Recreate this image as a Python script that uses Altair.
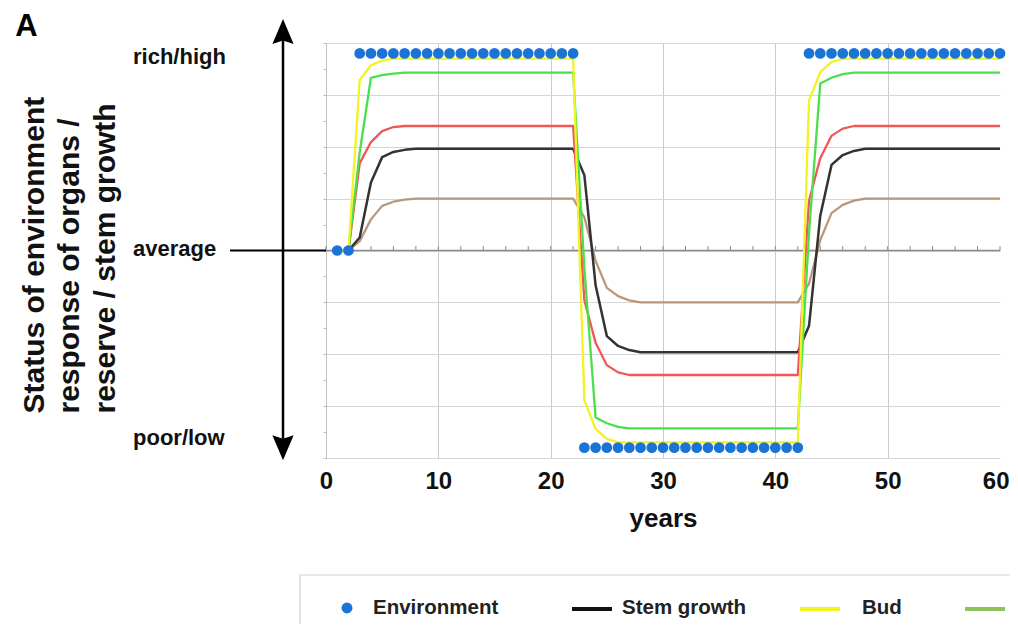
import altair as alt
import pandas as pd

# ---------------- data ----------------
env_years = list(range(1, 61))
env_values = [
    0, 0,
    3.8, 3.8, 3.8, 3.8, 3.8, 3.8, 3.8, 3.8, 3.8, 3.8,
    3.8, 3.8, 3.8, 3.8, 3.8, 3.8, 3.8, 3.8, 3.8, 3.8,
    -3.8, -3.8, -3.8, -3.8, -3.8, -3.8, -3.8, -3.8, -3.8, -3.8,
    -3.8, -3.8, -3.8, -3.8, -3.8, -3.8, -3.8, -3.8, -3.8, -3.8,
    3.8, 3.8, 3.8, 3.8, 3.8, 3.8, 3.8, 3.8, 3.8, 3.8,
    3.8, 3.8, 3.8, 3.8, 3.8, 3.8, 3.8, 3.8,
]

bud_years = [1, 2, 3, 4, 5, 6, 22, 23, 24, 25, 26, 42, 43, 44, 45, 46, 60]
bud_values = [0, 0, 3.29, 3.57, 3.66, 3.7, 3.7, -2.89, -3.44, -3.63, -3.7,
              -3.7, 2.89, 3.44, 3.63, 3.7, 3.7]

green_years = [1, 2, 3, 4, 5, 6, 7, 22, 23, 24, 25, 26, 27, 42, 43, 44, 45, 46, 47, 60]
green_values = [0, 0, 1.89, 3.33, 3.38, 3.41, 3.43, 3.43, -0.34, -3.22, -3.33, -3.40,
                -3.43, -3.43, 0.34, 3.22, 3.33, 3.40, 3.43, 3.43]

red_years = [1, 2, 3, 4, 5, 6, 7, 22, 23, 24, 25, 26, 27, 42, 43, 44, 45, 46, 47, 60]
red_values = [0, 0, 1.68, 2.09, 2.30, 2.38, 2.4, 2.4, -0.96, -1.78, -2.21, -2.35,
              -2.4, -2.4, 0.96, 1.78, 2.21, 2.35, 2.4, 2.4]

stem_years = [1, 2, 3, 4, 5, 6, 7, 8, 22, 23, 24, 25, 26, 27, 28, 42, 43, 44, 45, 46, 47, 48, 60]
stem_values = [0, 0, 0.25, 1.31, 1.80, 1.90, 1.94, 1.96, 1.96, 1.45, -0.67, -1.65, -1.84,
               -1.92, -1.96, -1.96, -1.45, 0.67, 1.65, 1.84, 1.92, 1.96, 1.96]

brown_years = [1, 2, 3, 4, 5, 6, 7, 8, 22, 23, 24, 25, 26, 27, 28, 42, 43, 44, 45, 46, 47, 48, 60]
brown_values = [0, 0, 0.18, 0.6, 0.86, 0.94, 0.98, 1.0, 1.0, 0.64, -0.2, -0.72, -0.88,
                -0.96, -1.0, -1.0, -0.64, 0.2, 0.72, 0.88, 0.96, 1.0, 1.0]

x_tick_values = [0, 10, 20, 30, 40, 50, 60]
y_tick_values = [-4, -3.5, -3, -2.5, -2, -1.5, -1, -0.5, 0, 0.5, 1, 1.5, 2, 2.5, 3, 3.5, 4]
zero_tick_years = [0, 2, 4, 6, 8, 10, 12, 14, 16, 18, 20, 22, 24, 26, 28, 30,
                   32, 34, 36, 38, 40, 42, 44, 46, 48, 50, 52, 54, 56, 58, 60]

side_labels = ["rich/high", "average", "poor/low"]
side_label_pos = [3.73, 0.03, -3.62]

y_title = ["Status of environment", "response of organs /", "reserve / stem growth"]

legend_labels = ["Environment", "Stem growth", "Bud"]

# ---------------- styling ----------------
HELV = "Liberation Sans, Arial, sans-serif"

C_ENV = "#1a73d6"
C_BUD = "#f2f224"
C_GREEN = "#4cdf4c"
C_RED = "#f25656"
C_STEM = "#333333"
C_BROWN = "#b8977a"
C_LEG_GREEN = "#8cc257"

x_scale = alt.Scale(domain=[0, 60], nice=False, zero=False)
y_scale = alt.Scale(domain=[-4, 4], nice=False, zero=False)

x_axis = alt.Axis(
    values=x_tick_values, grid=True, gridColor="#cbcbcb", gridWidth=1,
    gridOpacity={"condition": {"test": "datum.value === 60", "value": 0}, "value": 1},
    domain=False, ticks=False, labelFont=HELV, labelFontSize=24,
    labelFontWeight="bold", labelColor="#111111", labelPadding=11,
    labelFlush=False, labelOverlap=False,
    labelAlign={"condition": {"test": "datum.value === 60", "value": "right"}, "value": "center"},
    labelOffset={"condition": {"test": "datum.value === 60", "value": 9}, "value": 0},
    title="years", titleFont=HELV, titleFontSize=26, titleFontWeight="bold",
    titleColor="#111111", titleBaseline="alphabetic", titleY=68,
)
y_axis = alt.Axis(
    values=y_tick_values, grid=True, gridColor="#d6d6d6", gridWidth=1,
    gridOpacity={"condition": {"test": "datum.value % 1 !== 0", "value": 0}, "value": 1},
    domain=True, domainColor="#c2c2c2", domainWidth=1,
    ticks=True, tickSize=3, tickColor="#bdbdbd", labels=False,
    title=y_title, titleFont=HELV, titleFontSize=30, titleFontWeight="bold",
    titleColor="#111111", titleAngle=270, titleAlign="left",
    titleBaseline="alphabetic", titleX=-283, titleY=370, titleLineHeight=35.5,
)


def X(field="year"):
    return alt.X(f"{field}:Q", scale=x_scale, axis=x_axis)


def Y(field="value"):
    return alt.Y(f"{field}:Q", scale=y_scale, axis=y_axis)


layers = []

# zero axis line and its minor ticks
zero_df = pd.DataFrame({"year": [0], "year2": [60], "value": [0]})
layers.append(
    alt.Chart(zero_df).mark_rule(color="#8a8a8a", strokeWidth=1.5).encode(
        x=X(), x2="year2:Q", y=Y()
    )
)
ztick_df = pd.DataFrame({"year": zero_tick_years, "value": [0] * len(zero_tick_years)})
layers.append(
    alt.Chart(ztick_df).mark_tick(orient="vertical", size=5, thickness=1,
                                  color="#8a8a8a", yOffset=-2, opacity=1).encode(
        x=X(), y=Y()
    )
)

# response curves
series = [
    (brown_years, brown_values, C_BROWN, 2.3),
    (stem_years, stem_values, C_STEM, 2.5),
    (red_years, red_values, C_RED, 2.3),
    (green_years, green_values, C_GREEN, 2.3),
    (bud_years, bud_values, C_BUD, 2.3),
]
for yrs, vals, col, w in series:
    df = pd.DataFrame({"year": yrs, "value": vals})
    layers.append(
        alt.Chart(df).mark_line(color=col, strokeWidth=w, strokeJoin="round").encode(
            x=X(), y=Y(), order="year:Q"
        )
    )

# environment dots
env_df = pd.DataFrame({"year": env_years, "value": env_values})
layers.append(
    alt.Chart(env_df).mark_circle(size=115, color=C_ENV, opacity=1).encode(x=X(), y=Y())
)

# left annotations: labels, arrow, average line, panel letter
lab_df = pd.DataFrame({"label": side_labels, "value": side_label_pos})
layers.append(
    alt.Chart(lab_df).mark_text(align="left", baseline="middle", font=HELV,
                                fontSize=22, fontWeight="bold", color="#111111").encode(
        x=alt.value(-193), y=Y(), text="label:N"
    )
)
shaft_df = pd.DataFrame({"value": [4.1], "value2": [-3.7]})
layers.append(
    alt.Chart(shaft_df).mark_rule(color="black", strokeWidth=2.5).encode(
        x=alt.value(-43), y=Y(), y2="value2:Q"
    )
)
head_up_df = pd.DataFrame({"value": [4.22]})
layers.append(
    alt.Chart(head_up_df).mark_point(
        shape="M0,-1L0.85,1L0,0.72L-0.85,1Z", size=625, filled=True,
        color="black", opacity=1, strokeWidth=0
    ).encode(x=alt.value(-43), y=Y())
)
head_dn_df = pd.DataFrame({"value": [-3.8]})
layers.append(
    alt.Chart(head_dn_df).mark_point(
        shape="M0,1L0.85,-1L0,-0.72L-0.85,-1Z", size=625, filled=True,
        color="black", opacity=1, strokeWidth=0
    ).encode(x=alt.value(-43), y=Y())
)
avg_df = pd.DataFrame({"value": [0]})
layers.append(
    alt.Chart(avg_df).mark_rule(color="black", strokeWidth=2).encode(
        x=alt.value(-96), x2=alt.value(0), y=Y()
    )
)
letter_df = pd.DataFrame({"t": ["A"]})
layers.append(
    alt.Chart(letter_df).mark_text(align="center", baseline="alphabetic", font=HELV,
                                   fontSize=31, fontWeight="bold", color="black").encode(
        x=alt.value(-299.5), y=alt.value(-7), text="t:N"
    )
)

# manual legend (cut by the page edge as in the reference)
box_df = pd.DataFrame({"t": ["box"]})
layers.append(
    alt.Chart(box_df).mark_rect(fill="white", stroke="#d2d2d2", strokeWidth=1.2).encode(
        x=alt.value(-26), x2=alt.value(740), y=alt.value(532), y2=alt.value(650)
    )
)
layers.append(
    alt.Chart(box_df).mark_circle(size=120, color=C_ENV, opacity=1).encode(
        x=alt.value(21), y=alt.value(565)
    )
)
for x0, col in [(246, "#111111"), (474, "#f2f222"), (639, C_LEG_GREEN)]:
    layers.append(
        alt.Chart(box_df).mark_rule(color=col, strokeWidth=4).encode(
            x=alt.value(x0), x2=alt.value(x0 + 40), y=alt.value(566)
        )
    )
for lab, x0 in zip(legend_labels, [47, 296, 536]):
    ldf = pd.DataFrame({"t": [lab]})
    layers.append(
        alt.Chart(ldf).mark_text(align="left", baseline="alphabetic", font=HELV,
                                 fontSize=20.5, fontWeight="bold", color="#222222").encode(
            x=alt.value(x0), y=alt.value(571), text="t:N"
        )
    )

chart = alt.layer(*layers).properties(
    width=674, height=415,
    autosize=alt.AutoSizeParams(type="none"),
    padding={"left": 318, "top": 35, "right": 10, "bottom": 166},
    background="white",
).configure_view(strokeWidth=0)

chart.save("out.html", embed_options={"renderer": "svg", "actions": False})
